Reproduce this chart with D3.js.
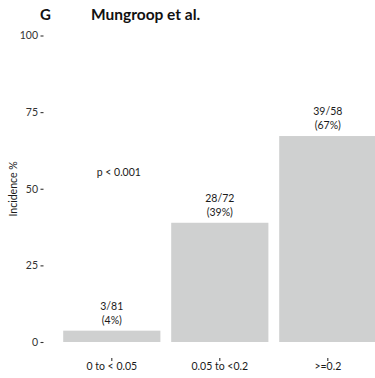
<!DOCTYPE html>
<html>
<head>
<meta charset="utf-8">
<script src="https://cdn.jsdelivr.net/npm/d3@7"></script>
<style>
  html, body { margin: 0; padding: 0; background: #fff; }
  svg { display: block; }
  text { font-family: Lato, "Open Sans", sans-serif; }
</style>
</head>
<body>
<div id="chart"></div>
<script>
const categories = ["0 to < 0.05", "0.05 to <0.2", ">=0.2"];
const events = [3, 28, 39];
const totals = [81, 72, 58];
const percents = [3.7, 38.9, 67.2];
const percentLabels = ["(4%)", "(39%)", "(67%)"];
const yTicks = [0, 25, 50, 75, 100];
const panelLetter = "G";
const titleText = "Mungroop et al.";
const yLabel = "Incidence %";
const pText = "p < 0.001";

const W = 375, H = 378;
const svg = d3.select("#chart").append("svg").attr("width", W).attr("height", H);

const x = d3.scaleBand().domain(categories).range([47, 392.6]).paddingInner(0.1).paddingOuter(0.15);
const y = d3.scaleLinear().domain([0, 100]).range([342, 35.5]);

// bars
svg.append("g").selectAll("rect").data(categories).join("rect")
  .attr("x", d => x(d))
  .attr("width", x.bandwidth())
  .attr("y", (d, i) => y(percents[i]))
  .attr("height", (d, i) => y(0) - y(percents[i]))
  .attr("fill", "#cfd0d0");

// bar labels
const lbl = svg.append("g").attr("font-size", 10.5).attr("fill", "#1a1a1a").attr("text-anchor", "middle");
categories.forEach((c, i) => {
  const cx = x(c) + x.bandwidth() / 2;
  lbl.append("text").attr("x", cx).attr("y", y(percents[i]) - 21).text(events[i] + "/" + totals[i]);
  lbl.append("text").attr("x", cx).attr("y", y(percents[i]) - 7).text(percentLabels[i]);
});

// p value
svg.append("text").attr("x", x(categories[0]) + x.bandwidth() / 2 + 7).attr("y", y(55.5) + 4)
  .attr("text-anchor", "middle").attr("font-size", 10.5).attr("fill", "#1a1a1a").text(pText);

// y axis
const yAxis = svg.append("g").attr("transform", "translate(43.5,0)")
  .call(d3.axisLeft(y).tickValues(yTicks).tickSize(3).tickPadding(2.5).tickFormat(d3.format("d")));
yAxis.select(".domain").remove();
yAxis.selectAll(".tick line").attr("stroke", "#333").attr("stroke-width", 1.1);
yAxis.selectAll("text").attr("font-size", 10.5).attr("fill", "#333").attr("font-family", "Lato, sans-serif");

// x axis
const xAxis = svg.append("g").attr("transform", "translate(0,358)")
  .call(d3.axisBottom(x).tickSize(3).tickPadding(1.5));
xAxis.select(".domain").remove();
xAxis.selectAll(".tick line").attr("stroke", "#333").attr("stroke-width", 1.1);
xAxis.selectAll("text").attr("font-size", 10.5).attr("fill", "#1a1a1a").attr("font-family", "Lato, sans-serif");

// y label
svg.append("text").attr("transform", "translate(17,189) rotate(-90)")
  .attr("text-anchor", "middle").attr("font-size", 10.5).attr("fill", "#1a1a1a").text(yLabel);

// title
svg.append("text").attr("x", 45.5).attr("y", 20).attr("text-anchor", "middle")
  .attr("font-size", 15).attr("font-weight", "bold").attr("fill", "#111").text(panelLetter);
svg.append("text").attr("x", 91).attr("y", 20)
  .attr("font-size", 15.5).attr("font-weight", "bold").attr("fill", "#111").text(titleText);
</script>
</body>
</html>
